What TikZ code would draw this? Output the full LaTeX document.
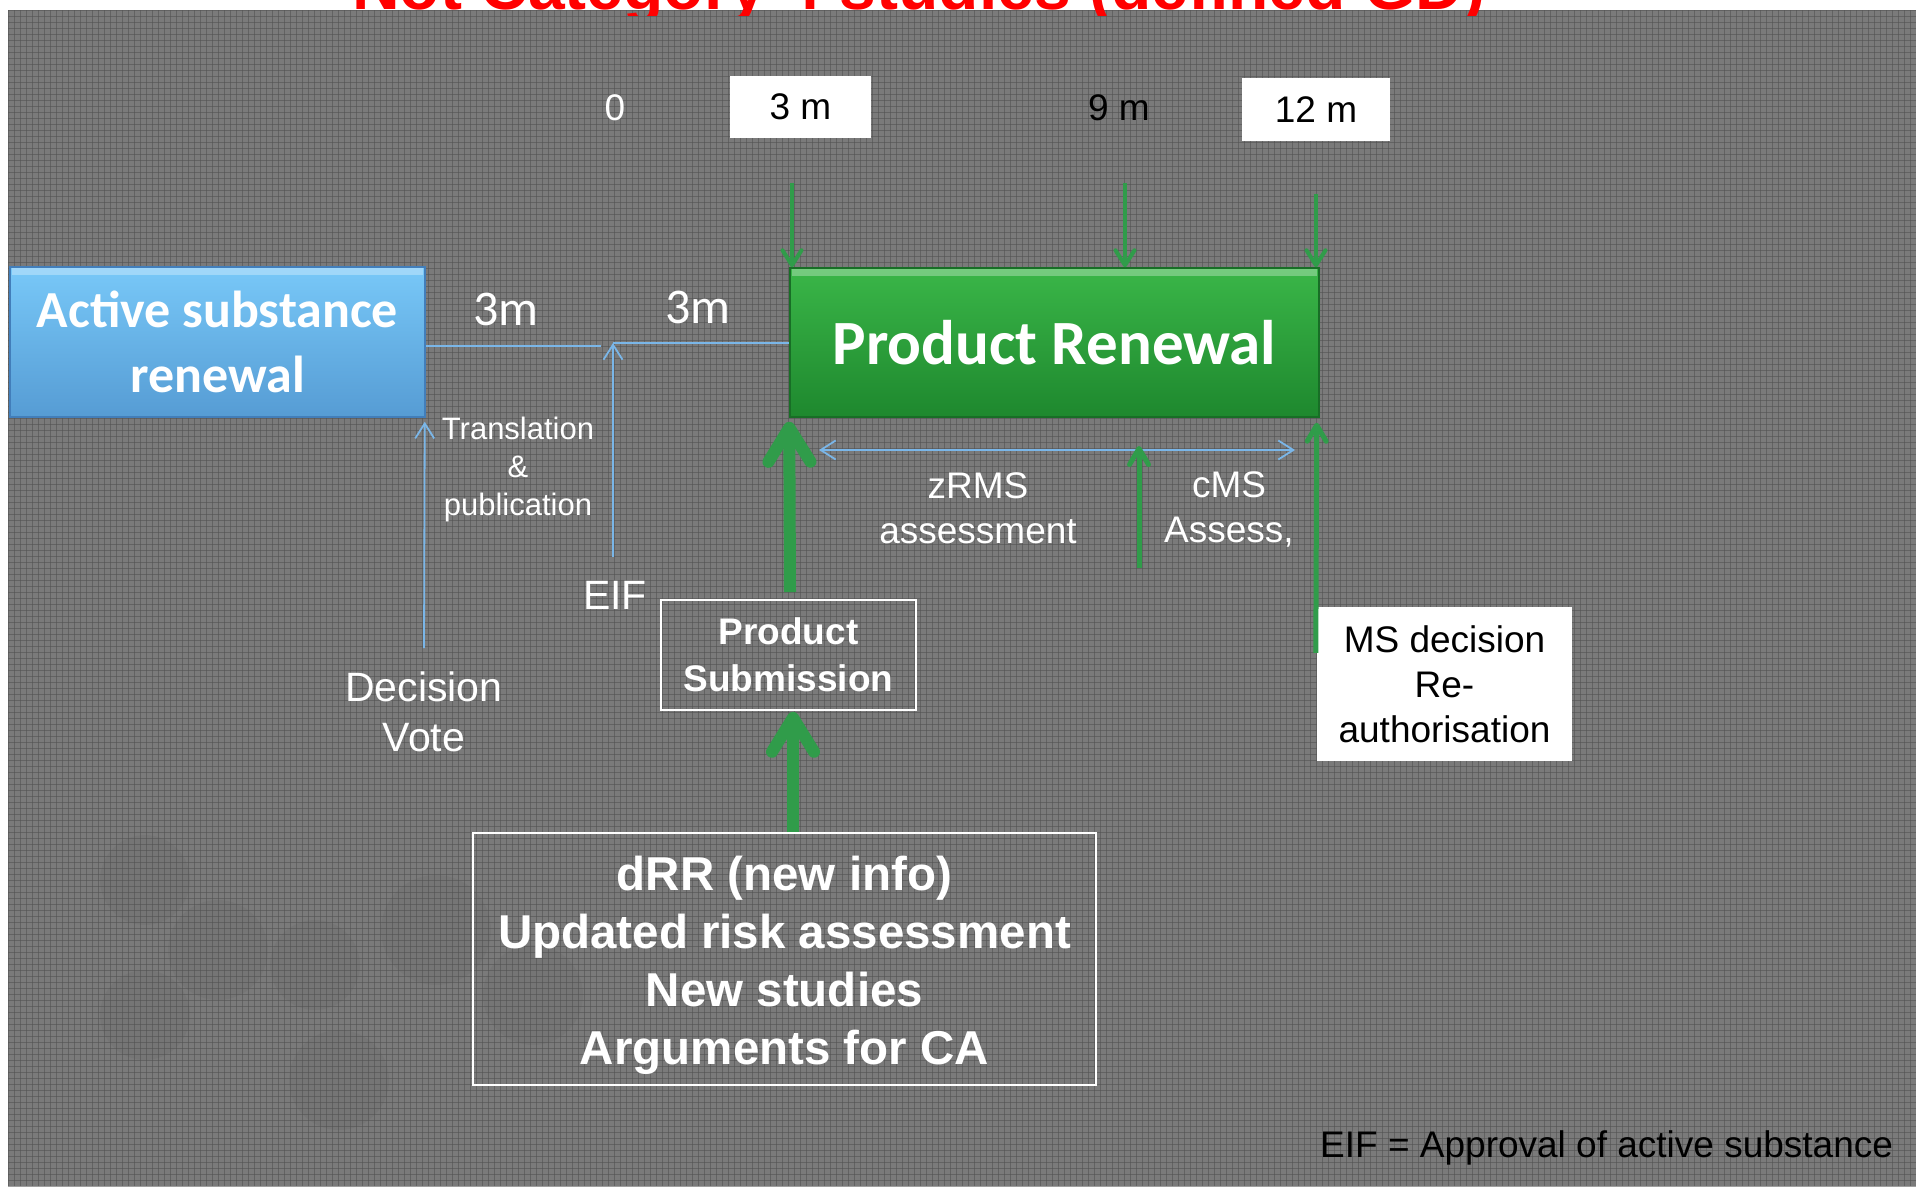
\documentclass[tikz,border=0pt]{standalone}
\usepackage{fontspec}
\setmainfont{Liberation Sans}
\newfontfamily\calibri{Carlito}
\usetikzlibrary{arrows.meta,calc}

\definecolor{bggray}{RGB}{122,122,122}
\definecolor{bgline}{RGB}{80,80,80}
\definecolor{garrow}{RGB}{48,156,74}
\definecolor{bline}{RGB}{122,182,232}
\definecolor{gtop}{RGB}{58,182,72}
\definecolor{gbot}{RGB}{30,136,46}
\definecolor{gedge}{RGB}{24,110,38}
\definecolor{btop}{RGB}{120,200,248}
\definecolor{bbot}{RGB}{86,156,212}
\definecolor{bedge}{RGB}{66,126,186}

\tikzset{
  txt/.style={inner sep=0pt, align=center, text=white, font=\fontsize{37}{45}\selectfont},
  blk/.style={txt, text=black},
  tagbox/.style={fill=white, inner sep=0pt, text=black, font=\fontsize{37}{45}\selectfont},
  outlinebox/.style={draw=white, line width=1.6pt, inner sep=0pt, align=center, text=white},
  greenbox/.style={draw=gedge, line width=1.5pt, top color=gtop, bottom color=gbot,
    inner sep=0pt, align=center, text=white, font=\calibri\bfseries\fontsize{63}{70}\selectfont},
  bluebox/.style={draw=bedge, line width=1.5pt, top color=btop, bottom color=bbot,
    inner sep=0pt, align=center, text=white, font=\calibri\bfseries\fontsize{52}{65}\selectfont},
  bluelink/.style={draw=bline, line width=1.8pt},
  bluearrow/.style={bluelink, -{Straight Barb[length=15pt,width=19pt]}},
  bluedouble/.style={bluelink, {Straight Barb[length=15pt,width=19pt]}-{Straight Barb[length=15pt,width=19pt]}},
  gthick/.style={draw=garrow, line width=12pt, -{Straight Barb[length=34pt,width=42pt,round]}},
  gmedium/.style={draw=garrow, line width=5pt, -{Straight Barb[length=16pt,width=19pt,round]}},
  gthin/.style={draw=garrow, line width=4pt, -{Straight Barb[length=15pt,width=19pt,round]}},
}

\begin{document}
\begin{tikzpicture}[x=1pt,y=-1pt]
\useasboundingbox (0,0) rectangle (1916,1186);
\fill[white] (0,0) rectangle (1916,1186);

% textured grey backdrop: fine cross-hatched mesh with faint round shapes
\fill[bggray] (8,10) rectangle (1916,1186);
\begin{scope}
  \clip (8,10) rectangle (1916,1186);
  \foreach \cx/\cy/\r in {145/880/45, 218/950/50, 315/965/45, 436/930/55, 533/995/50, 145/1015/45, 339/1080/50}
    \fill[black, opacity=0.035] (\cx,\cy) circle (\r);
  \foreach \gx in {8,14,...,1916}
    \draw[bgline, line width=1pt, opacity=0.55] (\gx,10) -- (\gx,1186);
  \foreach \gy in {10,16,...,1186}
    \draw[bgline, line width=1pt, opacity=0.55] (8,\gy) -- (1916,\gy);
\end{scope}

% heading, cut off by the top of the frame
\begin{scope}
  \clip (0,0) rectangle (1916,15);
  \node[anchor=base west, inner sep=0pt, text=red, font=\bfseries\fontsize{66}{70}\selectfont]
    (title) at (352,9) {Not Category 4 studies (defined GD)};
\end{scope}

% time scale
\node[txt] (t0) at (615,108) {0};
\node[tagbox, minimum width=141pt, minimum height=62pt] (t3) at (800.5,107) {3 m};
\node[blk] (t9) at (1119,108) {9 m};
\node[tagbox, minimum width=148pt, minimum height=63pt] (t12) at (1316,109.5) {12 m};

% main blocks
\node[bluebox, minimum width=415pt, minimum height=150pt] (asr) at (217.5,342) {Active substance\\renewal};
\node[greenbox, minimum width=529pt, minimum height=149pt] (pr) at (1054.5,342.5) {Product Renewal};
\fill[white, opacity=0.3] ($(asr.north west)+(3,2)$) rectangle ($(asr.north east)+(-3,9)$);
\fill[white, opacity=0.3] ($(pr.north west)+(3,2)$) rectangle ($(pr.north east)+(-3,9)$);

\node[outlinebox, minimum width=255pt, minimum height=110pt,
      font=\bfseries\fontsize{37}{47}\selectfont] (sub) at (788.5,655) {Product\\Submission};
\node[outlinebox, minimum width=623pt, minimum height=252pt] (drr) at (784.5,959) {};
\node[txt, font=\bfseries\fontsize{47.5}{58}\selectfont] (drrtext) at (784.5,965)
      {dRR (new info)\\Updated risk assessment\\New studies\\Arguments for CA};
\node[fill=white, inner sep=0pt, minimum width=255pt, minimum height=154pt, align=center,
      text=black, font=\fontsize{37}{45}\selectfont] (ms) at (1444.5,684)
      {MS decision\\Re-\\authorisation};

% labels
\node[txt, font=\calibri\fontsize{50}{60}\selectfont] (m1) at (506,309) {3m};
\node[txt, font=\calibri\fontsize{50}{60}\selectfont] (m2) at (698,307) {3m};
\node[txt, font=\fontsize{31}{38}\selectfont] (trans) at (518,469) {Translation\\\&\\publication};
\node[txt, font=\fontsize{41}{41}\selectfont] (eif) at (615,595) {EIF};
\node[txt, font=\fontsize{41}{50}\selectfont] (dec) at (424,712) {Decision\\Vote};
\node[txt] (zrms) at (978,508) {zRMS\\assessment};
\node[txt] (cms) at (1229,509) {cMS\\Assess,};
\node[blk, anchor=base west] (note) at (1320,1157) {EIF = Approval of active substance};

% timeline links
\coordinate (gap) at (601,346);
\coordinate (eifTop) at (613,343);
\coordinate (eifFoot) at (613,557);
\coordinate (decFoot) at (424,648);
\draw[bluelink] ($(asr.east)+(0,4)$) -- (gap);
\draw[bluelink] (eifTop) -- (eifTop -| pr.west);
\draw[bluearrow] (eifFoot) -- (eifTop);
\draw[bluearrow] (decFoot) -- ($(asr.south east)+(-1,4)$);

% assessment span
\coordinate (zl) at (819,450);
\coordinate (zr) at (1295,450);
\draw[bluedouble] (zl) -- (zr);

% month markers
\coordinate (d3) at (792,183);
\coordinate (d9) at (1125,183);
\coordinate (d12) at (1316,194);
\draw[gthin] (d3) -- (d3 |- pr.north);
\draw[gthin] (d9) -- (d9 |- pr.north);
\draw[gthin] (d12) -- (d12 |- pr.north);

% submissions feeding the renewal
\draw[gthick] ($(sub.north)+(1.5,-7)$) -- ($(pr.south west)+(0,4)$);
\draw[gthick] ($(drr.north)+(8.5,0)$) -- ($(sub.south)+(4.5,1)$);

\coordinate (cmsFoot) at (1139,568);
\coordinate (cmsTip) at (1139,446);
\draw[gmedium] (cmsFoot) -- (cmsTip);
\draw[gmedium] ($(ms.north west)+(-1,46)$) -- ($(pr.south east)+(-3,5)$);
\end{tikzpicture}
\end{document}
